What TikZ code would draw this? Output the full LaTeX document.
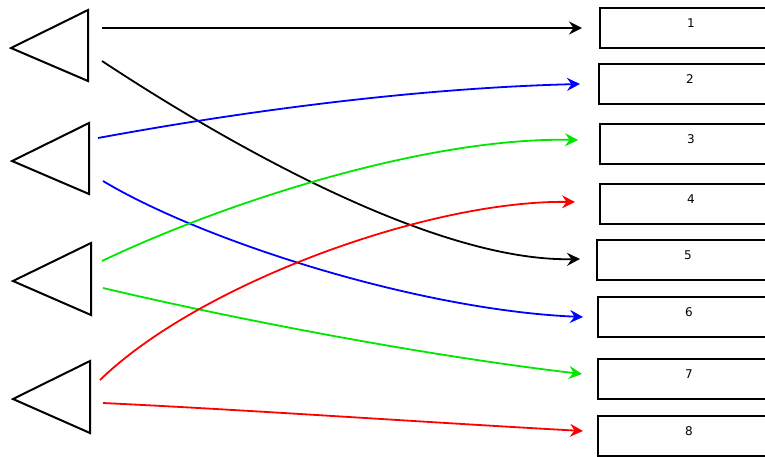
\documentclass[tikz,border=0pt]{standalone}
\usepackage{fontspec}
\setsansfont{DejaVu Sans}
\usetikzlibrary{arrows.meta,calc}
\definecolor{lk}{HTML}{000000}
\definecolor{lb}{HTML}{0000FF}
\definecolor{lg}{HTML}{00E600}
\definecolor{lr}{HTML}{FF0000}
\tikzset{
  outbox/.style={draw, line width=2pt, anchor=north west, minimum width=182pt,
    minimum height=40pt, inner sep=0pt, text depth=10pt,
    font=\sffamily\fontsize{12}{14}\selectfont},
  tri/.style={draw, line width=2pt, line join=miter},
  wire/.style={line width=1.8pt, -{Stealth[length=13pt,width=13pt,inset=4.5pt]}}
}
\begin{document}
\begin{tikzpicture}[x=1pt, y=-1pt]
  \useasboundingbox (0,0) rectangle (765,456);
  % sources
  \foreach \n/\ax/\ay/\rx/\ty/\by in {1/11/48/88/10/81, 2/12/161/89/123/194,
      3/13/281/91/243/315, 4/13/399/90/361/433}
    \draw[tri] (\ax,\ay) -- (\rx,\ty) -- (\rx,\by) -- cycle;
  \coordinate (s1) at (102,28);
  \coordinate (s2) at (102,61);
  \coordinate (s3) at (98,138);
  \coordinate (s4) at (103,181);
  \coordinate (s5) at (102,261);
  \coordinate (s6) at (103,288);
  \coordinate (s7) at (100,380);
  \coordinate (s8) at (103,403);
  % targets
  \foreach \n/\bx/\by in {1/599/7, 2/598/63, 3/599/123, 4/599/183,
      5/596/239, 6/597/296, 7/597/358, 8/597/415}
    \node[outbox] (b\n) at (\bx,\by) {\n};
  % connectors
  \draw[wire, lk] (s1) -- ($(b1.west)+(-17,0)$);
  \draw[wire, lk] (s2) .. controls (240,152) and (440,262) .. ($(b5.west)+(-16,-1)$);
  \draw[wire, lb] (s3) .. controls (250,110) and (420,88) .. ($(b2.west)+(-18,0)$);
  \draw[wire, lb] (s4) .. controls (205,242) and (420,310) .. ($(b6.west)+(-14,0)$);
  \draw[wire, lg] (s5) .. controls (230,200) and (430,137) .. ($(b3.west)+(-21,-4)$);
  \draw[wire, lg] (s6) .. controls (230,318) and (420,355) .. ($(b7.west)+(-15,-5)$);
  \draw[wire, lr] (s7) .. controls (200,283) and (430,200) .. ($(b4.west)+(-24,-2)$);
  \draw[wire, lr] (s8) .. controls (250,410) and (420,422) .. ($(b8.west)+(-14,-5)$);
\end{tikzpicture}
\end{document}
